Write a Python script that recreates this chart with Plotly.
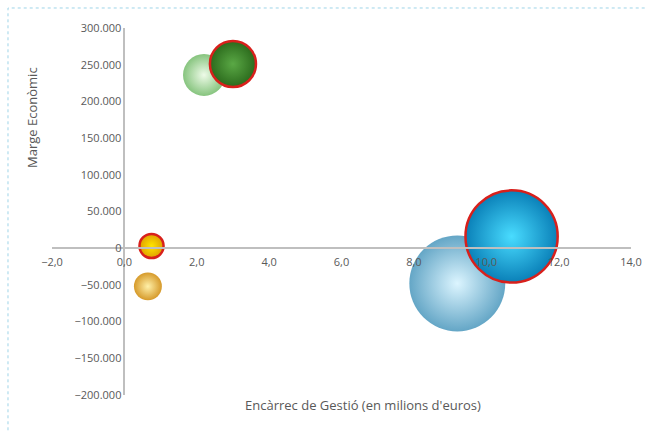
import plotly.graph_objects as go

# bubble data (light ones first so the dark ones sit on top)
encarrec = [2.2, 9.2, 0.65, 3.0, 10.7, 0.75]
marge = [236000, -48000, -52000, 251000, 16000, 3000]
bubble_size = [17.6, 92.0, 7.8, 21.2, 85.0, 5.8]

edge_colors = ['#86c47e', '#64a6c6', '#d69a2a', '#2b6a1c', '#0a80b8', '#e0a000']
center_colors = ['#eefbe8', '#dcf5ff', '#fff0a8', '#5aa845', '#49dcff', '#ffe600']
border_colors = ['rgba(0,0,0,0)', 'rgba(0,0,0,0)', 'rgba(0,0,0,0)',
                 '#d8201c', '#d8201c', '#d8201c']
border_widths = [0, 0, 0, 2.5, 2.5, 2.5]

x_ticks = [-2, 0, 2, 4, 6, 8, 10, 12, 14]
y_ticks = [-200000, -150000, -100000, -50000, 0, 50000, 100000, 150000, 200000, 250000, 300000]

font_name = 'Open Sans'
grey = '#595959'

fig = go.Figure()
fig.add_trace(go.Scatter(
    x=encarrec,
    y=marge,
    mode='markers',
    marker=dict(
        size=bubble_size,
        sizemode='area',
        sizeref=0.02,
        color=edge_colors,
        opacity=1,
        gradient=dict(type='radial', color=center_colors),
        line=dict(color=border_colors, width=border_widths),
    ),
    hovertemplate='%{x:.1f}<br>%{y:,.0f}<extra></extra>',
    showlegend=False,
))

fig.update_layout(
    width=647,
    height=433,
    margin=dict(l=52, r=16, t=28, b=38),
    paper_bgcolor='white',
    plot_bgcolor='white',
    separators=',.',
    font=dict(family=font_name, size=11, color=grey),
    xaxis=dict(
        range=[-2, 14],
        tickvals=x_ticks,
        tickformat='.1f',
        showgrid=False,
        zeroline=False,
        showline=True,
        linecolor='#bfbfbf',
        linewidth=1.5,
        anchor='free',
        position=0.4,
        ticks='',
        ticklabelstandoff=4,
        automargin=False,
        tickfont=dict(size=11, color=grey),
    ),
    yaxis=dict(
        range=[-200000, 300000],
        tickvals=y_ticks,
        tickformat=',.0f',
        showgrid=False,
        zeroline=False,
        showline=True,
        linecolor='#bfbfbf',
        linewidth=1.5,
        anchor='free',
        position=0.125,
        ticks='',
        automargin=False,
        tickfont=dict(size=11, color=grey),
    ),
    annotations=[
        dict(text='Marge Econòmic', xref='paper', yref='paper',
             x=-0.0345, y=0.755, xanchor='center', yanchor='middle',
             textangle=-90, showarrow=False,
             font=dict(size=13, color=grey)),
        dict(text="Encàrrec de Gestió (en milions d'euros)", xref='paper', yref='paper',
             x=0.537, y=-0.027, xanchor='center', yanchor='middle', showarrow=False,
             font=dict(size=13, color=grey)),
    ],
    shapes=[
        # dotted chart-area frame (only top and left edges are visible)
        dict(type='rect', xref='paper', yref='paper',
             x0=-0.076, x1=1.2, y0=-0.3, y1=1.0545,
             line=dict(color='#9fd4e8', width=1, dash='dot'), layer='below'),
    ],
)

fig.write_html(
    "out.html",
    config={'displayModeBar': False},
    post_script="document.body.style.margin='0';document.body.style.overflow='hidden';",
)
